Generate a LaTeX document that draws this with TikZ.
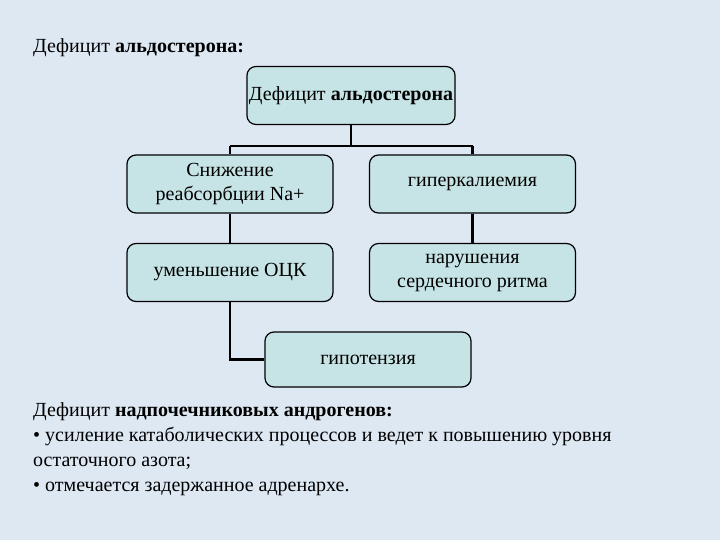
\documentclass[tikz,border=0pt]{standalone}
\usepackage{fontspec}
\setmainfont{Liberation Serif}
\definecolor{bgc}{HTML}{DDE8F3}
\definecolor{boxc}{HTML}{C6E3E5}
\begin{document}
\begin{tikzpicture}[x=1pt,y=-1pt,
  box/.style={draw=black,line width=1.2pt,fill=boxc,rounded corners=9pt,
    minimum width=206pt,minimum height=58pt,align=center,inner sep=2pt,
    font=\fontsize{20}{24}\selectfont},
  conn/.style={draw=black,line width=2.6pt},
  txt/.style={anchor=west,inner sep=0pt,align=left,font=\fontsize{20}{25}\selectfont}]
\fill[bgc] (0,0) rectangle (720,540);
\useasboundingbox (0,0) rectangle (720,540);
\node[txt] (title) at (33,48) {Дефицит \textbf{альдостерона:}};
\node[box] (top) at (351,95.5) {Дефицит \textbf{альдостерона}};
\node[box] (l1) at (230,184) {Снижение\\реабсорбции Na+};
\node[box] (r1) at (472.5,184) {гиперкалиемия};
\node[box] (l2) at (230,272.5) {уменьшение ОЦК};
\node[box] (r2) at (472.5,272.5) {нарушения\\сердечного ритма};
\node[box,minimum height=55pt] (hyp) at (368,359.5) {гипотензия};
\coordinate (hy) at (0,146);
\coordinate (lo) at (0,359.5);
\draw[conn] (top.south) -- (top.south |- hy);
\draw[conn] (l1.north |- hy) -- (r1.north |- hy);
\draw[conn] (l1.north |- hy) -- (l1.north);
\draw[conn] (r1.north |- hy) -- (r1.north);
\draw[conn] (l1) -- (l2);
\draw[conn] (r1) -- (r2);
\draw[conn] (l2.south) -- (l2.south |- lo) -- (hyp.west);
\node[txt,anchor=north west] (bottom) at (33,402) {Дефицит \textbf{надпочечниковых андрогенов:}\\
• усиление катаболических процессов и ведет к повышению уровня\\
остаточного азота;\\
• отмечается задержанное адренархе.};
\end{tikzpicture}
\end{document}
